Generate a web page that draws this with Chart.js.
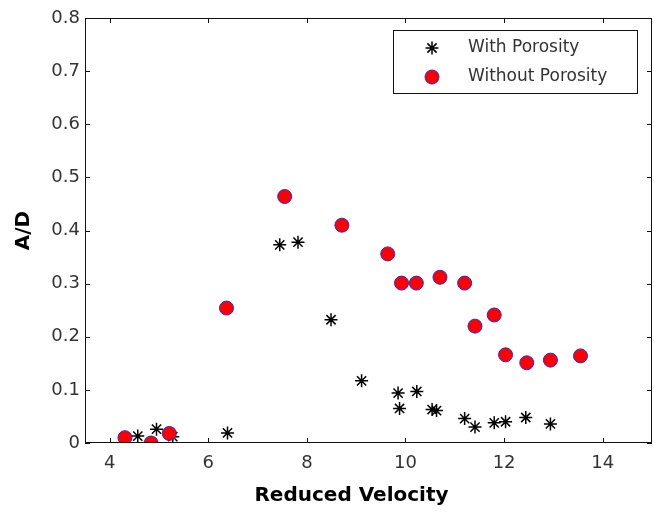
<!DOCTYPE html>
<html>
<head>
<meta charset="utf-8">
<script src="https://cdn.jsdelivr.net/npm/chart.js@4/dist/chart.umd.min.js"></script>
<style>
  body { margin: 0; background: #fff; }
  #wrap { width: 654px; height: 514px; }
</style>
</head>
<body>
<div id="wrap"><canvas id="plot" width="654" height="514"></canvas></div>
<script>
// data
const withPorosityX = [4.57, 4.95, 5.28, 6.39, 7.45, 7.82, 8.49, 9.11, 9.85, 9.88, 10.23, 10.54, 10.63, 11.20, 11.41, 11.80, 12.03, 12.44, 12.94];
const withPorosityY = [0.013, 0.026, 0.012, 0.019, 0.373, 0.378, 0.232, 0.117, 0.094, 0.065, 0.097, 0.063, 0.061, 0.046, 0.030, 0.038, 0.040, 0.048, 0.036];

const withoutPorosityX = [4.31, 4.84, 5.21, 6.37, 7.55, 8.71, 9.64, 9.92, 10.22, 10.70, 11.20, 11.41, 11.80, 12.03, 12.46, 12.94, 13.55];
const withoutPorosityY = [0.010, 0.000, 0.018, 0.254, 0.464, 0.410, 0.356, 0.301, 0.301, 0.312, 0.301, 0.220, 0.241, 0.166, 0.151, 0.156, 0.164];

const xTicks = [4, 6, 8, 10, 12, 14];
const yTicks = [0, 0.1, 0.2, 0.3, 0.4, 0.5, 0.6, 0.7, 0.8];
const seriesNames = ['With Porosity', 'Without Porosity'];
const xTitle = 'Reduced Velocity';
const yTitle = 'A/D';

const FONT = '"DejaVu Sans", Verdana, sans-serif';

function toPoints(xs, ys) {
    return xs.map((x, i) => ({ x: x, y: ys[i] }));
}

const starStyle = { pointStyle: 'star', radius: 6.5, borderWidth: 1.5, borderColor: '#000', backgroundColor: '#000' };
const dotStyle = { pointStyle: 'circle', radius: 7, borderWidth: 1, borderColor: '#2a2ad8', backgroundColor: '#ff0000' };

// box round the plot + inward ticks on all four sides (matlab look), x title
const frameTicks = {
    id: 'frameTicks',
    afterDraw(chart) {
        const { ctx, chartArea: a, scales } = chart;
        const len = 5;
        ctx.save();
        ctx.strokeStyle = '#111';
        ctx.lineWidth = 1;
        ctx.strokeRect(a.left + 0.5, a.top + 0.5, a.right - a.left - 1, a.bottom - a.top - 1);
        ctx.beginPath();
        xTicks.forEach(v => {
            const px = Math.round(scales.x.getPixelForValue(v)) + 0.5;
            ctx.moveTo(px, a.bottom); ctx.lineTo(px, a.bottom - len);
            ctx.moveTo(px, a.top); ctx.lineTo(px, a.top + len);
        });
        yTicks.forEach(v => {
            const py = Math.round(scales.y.getPixelForValue(v)) + 0.5;
            ctx.moveTo(a.left, py); ctx.lineTo(a.left + len, py);
            ctx.moveTo(a.right, py); ctx.lineTo(a.right - len, py);
        });
        ctx.stroke();

        // x axis title sits a bit left of the plot centre in the original
        ctx.fillStyle = '#000';
        ctx.font = 'bold 20px ' + FONT;
        ctx.textAlign = 'center';
        ctx.textBaseline = 'middle';
        ctx.fillText(xTitle, (a.left + a.right) / 2 - 17, 496);
        ctx.restore();
    }
};

// legend box in the top right corner of the plot
const boxLegend = {
    id: 'boxLegend',
    afterDraw(chart) {
        const { ctx, chartArea: a } = chart;
        const w = 244, h = 63;
        const x0 = a.right - 15 - w, y0 = a.top + 12;
        ctx.save();
        ctx.fillStyle = '#fff';
        ctx.fillRect(x0, y0, w, h);
        ctx.strokeStyle = '#111';
        ctx.lineWidth = 1;
        ctx.strokeRect(x0 + 0.5, y0 + 0.5, w, h);
        const styles = [starStyle, dotStyle];
        ctx.font = '17px ' + FONT;
        ctx.textBaseline = 'middle';
        styles.forEach((s, i) => {
            const cy = y0 + 18 + i * 29;
            ctx.fillStyle = s.backgroundColor;
            ctx.strokeStyle = s.borderColor;
            ctx.lineWidth = s.borderWidth;
            Chart.helpers.drawPoint(ctx, { pointStyle: s.pointStyle, radius: s.radius, rotation: 0, borderWidth: s.borderWidth }, x0 + 39, cy);
            ctx.fillStyle = '#333';
            ctx.fillText(seriesNames[i], x0 + 75, cy);
        });
        ctx.restore();
    }
};

const ctx = document.getElementById('plot').getContext('2d');
const chart = new Chart(ctx, {
    type: 'scatter',
    data: {
        datasets: [
            Object.assign({ label: seriesNames[0], data: toPoints(withPorosityX, withPorosityY), order: 1 }, starStyle),
            Object.assign({ label: seriesNames[1], data: toPoints(withoutPorosityX, withoutPorosityY), order: 0 }, dotStyle)
        ]
    },
    options: {
        responsive: false,
        animation: false,
        events: [],
        layout: { autoPadding: false, padding: { top: 18, right: 2, left: 0, bottom: 0 } },
        plugins: { legend: { display: false }, tooltip: { enabled: false } },
        scales: {
            x: {
                type: 'linear',
                min: 3.5,
                max: 15,
                afterBuildTicks: s => { s.ticks = xTicks.map(v => ({ value: v })); },
                afterFit: s => { s.height = 71; },
                grid: { display: false, drawTicks: false, tickLength: 0 },
                border: { display: false },
                ticks: { color: '#333', font: { family: FONT, size: 18 }, padding: 10, maxRotation: 0 },
                title: { display: false }
            },
            y: {
                type: 'linear',
                min: 0,
                max: 0.8,
                afterBuildTicks: s => { s.ticks = yTicks.map(v => ({ value: v })); },
                afterFit: s => { s.width = 85; },
                grid: { display: false, drawTicks: false, tickLength: 0 },
                border: { display: false },
                ticks: { color: '#333', font: { family: FONT, size: 18 }, padding: 5, callback: v => String(v) },
                title: { display: true, text: yTitle, color: '#000', font: { family: FONT, size: 20, weight: 'bold' }, padding: { top: 12, bottom: 0 } }
            }
        }
    },
    plugins: [frameTicks, boxLegend]
});
</script>
</body>
</html>
